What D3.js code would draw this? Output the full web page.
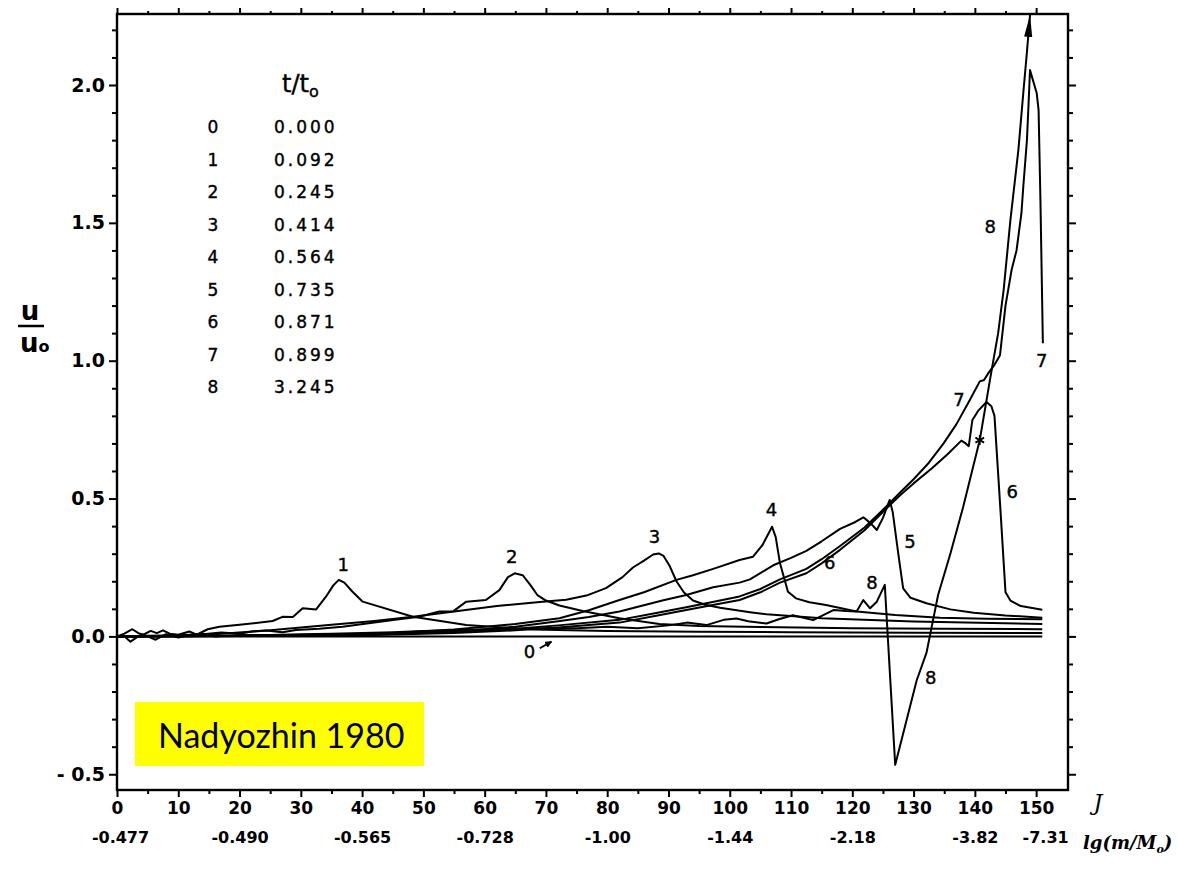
<!DOCTYPE html>
<html>
<head>
<meta charset="utf-8">
<script src="https://cdn.jsdelivr.net/npm/d3@7"></script>
<style>
  body { margin: 0; background: #fff; }
  svg { display: block; }
</style>
</head>
<body>
<svg id="chart" width="1178" height="870"></svg>
<script>
// ---------------- DATA ----------------
const legendIndex = ["0", "1", "2", "3", "4", "5", "6", "7", "8"];
const legendTime = ["0.000", "0.092", "0.245", "0.414", "0.564", "0.735", "0.871", "0.899", "3.245"];

const xMajorTicks = [0, 10, 20, 30, 40, 50, 60, 70, 80, 90, 100, 110, 120, 130, 140, 150];
const xMinorTicks = [5, 15, 25, 35, 45, 55, 65, 75, 85, 95, 105, 115, 125, 135, 145];
const lgTickJ = [0, 20, 40, 60, 80, 100, 120, 140, 150];
const lgTickLabels = ["-0.477", "-0.490", "-0.565", "-0.728", "-1.00", "-1.44", "-2.18", "-3.82", "-7.31"];
const yMajorTicks = [-0.5, 0.0, 0.5, 1.0, 1.5, 2.0];
const yTickLabels = ["- 0.5", "0.0", "0.5", "1.0", "1.5", "2.0"];

// curves: [J, u/u0]
const curve0 = [[0, 0], [151, 0]];
const curve1 = [[0,0],[1.2,0.01],[2.5,0.026],[3.5,0.012],[4.3,0.006],[5.5,0.02],[6.5,0.012],[7.5,0.022],[8.6,0.01],[10,0.006],[11.8,0.018],[13,0.006],[14.8,0.026],[16.7,0.035],[20,0.042],[25.4,0.056],[27,0.071],[28.7,0.07],[30.3,0.102],[32.5,0.098],[34.1,0.144],[35.3,0.185],[36.2,0.205],[37.1,0.195],[38.4,0.163],[40.1,0.126],[48.3,0.071],[57,0.041],[67.9,0.025],[80,0.02],[95,0.017],[110,0.015],[130,0.013],[151,0.012]];
const curve2 = [[0,0],[5,0.002],[10,0.004],[14,0.008],[17,0.014],[20,0.01],[22,0.018],[24.3,0.021],[27,0.015],[29.2,0.023],[33,0.028],[36.8,0.035],[42,0.05],[46,0.062],[49.3,0.071],[52.6,0.09],[54.8,0.09],[57,0.126],[60.2,0.132],[62.4,0.168],[63.8,0.215],[64.9,0.229],[66.2,0.222],[67.5,0.185],[68.6,0.15],[70,0.13],[72.2,0.112],[76,0.092],[82,0.066],[88.5,0.045],[95,0.038],[105,0.034],[120,0.03],[135,0.028],[151,0.026]];
const curve3 = [[0,0],[10,0.002],[16,0.008],[25,0.022],[35,0.042],[42,0.056],[48.3,0.071],[55,0.09],[62,0.11],[69,0.125],[73.3,0.133],[76.6,0.148],[79.8,0.175],[82.5,0.215],[84.2,0.25],[86,0.275],[87.5,0.297],[88.4,0.301],[89.2,0.292],[90.2,0.255],[91.3,0.2],[92.5,0.16],[94,0.13],[96,0.115],[98.4,0.104],[103.3,0.088],[106,0.08],[115,0.066],[130,0.054],[151,0.045]];
const curve4 = [[0,0],[20,0.002],[35,0.006],[45,0.012],[55,0.025],[65,0.045],[72.2,0.066],[77,0.095],[82,0.132],[86,0.16],[91.3,0.205],[94,0.222],[97.3,0.245],[101.6,0.277],[103.8,0.289],[105.3,0.33],[106.9,0.398],[107.5,0.36],[108.2,0.265],[109.5,0.162],[110.8,0.138],[113,0.124],[115.7,0.114],[120.7,0.09],[127,0.078],[134.3,0.068],[142,0.064],[151,0.062]];
const curve5 = [[0,0],[20,0.001],[40,0.006],[55,0.018],[65,0.035],[72,0.055],[77,0.07],[82,0.09],[89,0.13],[92.9,0.15],[97.3,0.178],[101.6,0.195],[103.3,0.207],[107.1,0.258],[110,0.285],[112.5,0.31],[115,0.345],[118,0.39],[120.5,0.415],[121.8,0.432],[123,0.41],[124,0.386],[125,0.43],[126.1,0.495],[126.6,0.45],[127.5,0.3],[128.3,0.174],[129.5,0.14],[132.1,0.12],[136,0.098],[139.8,0.086],[145,0.076],[151,0.068]];
const curve6 = [[0,0],[20,0.001],[40,0.004],[55,0.012],[65,0.022],[72,0.032],[82,0.05],[88,0.075],[92.9,0.096],[97,0.113],[101.6,0.132],[105,0.16],[108.2,0.195],[112.5,0.229],[115,0.265],[118,0.314],[122,0.385],[125.6,0.465],[127.8,0.512],[130,0.555],[133,0.61],[135.5,0.66],[137.8,0.71],[138.5,0.7],[139,0.69],[139.6,0.785],[140.6,0.82],[141.9,0.85],[142.7,0.835],[143.2,0.8],[144.2,0.45],[145,0.16],[145.8,0.13],[147.5,0.11],[151,0.097]];
const curve7 = [[0,0],[20,0.002],[40,0.006],[55,0.016],[65,0.028],[72,0.04],[82,0.06],[88,0.085],[92.9,0.106],[97,0.124],[101.6,0.145],[105,0.172],[108.2,0.207],[112.5,0.245],[115,0.28],[118,0.328],[122,0.395],[125.6,0.472],[127.8,0.522],[130,0.57],[132.5,0.63],[134.9,0.7],[137,0.77],[139,0.85],[140.8,0.925],[141.5,0.93],[142.2,0.955],[143.2,0.985],[144.1,1.02],[145,1.2],[146,1.33],[146.8,1.40],[147.6,1.535],[147.9,1.63],[148.5,1.80],[148.8,1.95],[149,2.054],[150.1,1.97],[150.4,1.909],[150.7,1.583],[151.1,1.063]];
const curve8 = [[0,0],[1,0.004],[2.2,-0.019],[4,0.008],[5,0.0],[6.3,-0.012],[8,0.008],[10,-0.004],[12,0.006],[14,0.01],[16,0.0],[20,0.005],[25,0.005],[30,0.008],[35,0.01],[40,0.012],[45,0.015],[50,0.02],[55,0.022],[60,0.025],[65,0.025],[70,0.03],[75,0.03],[80,0.035],[85,0.03],[90,0.04],[93,0.05],[96.2,0.041],[99,0.06],[101.1,0.065],[103,0.055],[106,0.047],[108,0.062],[110.3,0.077],[113.6,0.059],[117,0.096],[119,0.092],[120.7,0.09],[121.8,0.132],[122.9,0.102],[124,0.126],[125.3,0.187],[127,-0.466],[130.5,-0.16],[132.1,-0.06],[134,0.15],[136,0.3],[138.1,0.47],[140.8,0.712],[142.5,0.935],[143.8,1.10],[144.7,1.257],[145.8,1.51],[147.1,1.764],[147.9,1.97],[148.5,2.12],[149,2.254]];

const curves = [curve0, curve1, curve2, curve3, curve4, curve5, curve6, curve7, curve8];

// curve number annotations (text, J, u)
const curveLabelText = ["1", "2", "3", "4", "5", "6", "6", "7", "7", "8", "8", "8", "0"];
const curveLabelJ = [36.9, 64.4, 87.7, 106.8, 129.4, 116.3, 146.1, 137.4, 150.9, 123.2, 132.8, 142.5, 67.3];
const curveLabelU = [0.26, 0.288, 0.361, 0.459, 0.343, 0.267, 0.524, 0.861, 0.999, 0.194, -0.15, 1.485, -0.056];
const zeroArrow = [[69.0, -0.043], [70.9, -0.019]];
const starPoint = [140.8, 0.712];

// ---------------- CHART ----------------
const svg = d3.select("#chart");
const hand = '"DejaVu Sans", sans-serif';

const x = d3.scaleLinear().domain([0, 155.2]).range([117, 1068]);
const y = d3.scaleLinear().domain([-0.5, 2.0]).range([774.25, 85]);
const plotTop = 14, plotBottom = 790, plotLeft = 117, plotRight = 1068;

// arrow marker
const defs = svg.append("defs");
defs.append("marker").attr("id", "arrow").attr("viewBox", "0 0 10 10")
  .attr("refX", 10).attr("refY", 5).attr("markerWidth", 22).attr("markerHeight", 9)
  .attr("markerUnits", "userSpaceOnUse").attr("orient", "auto").attr("preserveAspectRatio", "none")
  .append("path").attr("d", "M0,0.5 L10,5 L0,9.5 Z").attr("fill", "#000");
defs.append("marker").attr("id", "arrowSmall").attr("viewBox", "0 0 10 10")
  .attr("refX", 9).attr("refY", 5).attr("markerWidth", 7).attr("markerHeight", 7)
  .attr("markerUnits", "userSpaceOnUse").attr("orient", "auto")
  .append("path").attr("d", "M0,0 L10,5 L0,10 Z").attr("fill", "#000");

// yellow box
svg.append("rect").attr("x", 135).attr("y", 702).attr("width", 289).attr("height", 64).attr("fill", "#ffff00");
svg.append("text").attr("x", 158).attr("y", 748).text("Nadyozhin 1980")
  .attr("font-family", "Lato, 'Open Sans', sans-serif").attr("font-size", 34).attr("fill", "#000");

// axes ticks
function styleAxis(g) {
  g.select(".domain").remove();
  g.selectAll(".tick line").attr("stroke", "#000").attr("stroke-width", 2);
}
const yMinor = d3.range(-5, 23).map(d => d / 10).filter(d => yMajorTicks.indexOf(d) < 0);

svg.append("g").attr("transform", `translate(0,${plotBottom})`)
  .call(d3.axisBottom(x).tickValues(xMajorTicks).tickSize(7).tickPadding(5).tickFormat(d => d))
  .call(styleAxis)
  .call(g => g.selectAll("text").attr("font-family", hand).attr("font-size", 17).attr("font-weight", "bold").attr("fill", "#000"));
svg.append("g").attr("transform", `translate(0,${plotBottom})`)
  .call(d3.axisBottom(x).tickValues(xMinorTicks).tickSize(4).tickFormat(""))
  .call(styleAxis);
svg.append("g").attr("transform", `translate(0,${plotBottom + 40})`)
  .call(d3.axisBottom(x).tickValues(lgTickJ).tickSize(0).tickPadding(2).tickFormat((d, i) => lgTickLabels[i]))
  .call(g => g.select(".domain").remove())
  .call(g => g.selectAll("text").attr("font-family", hand).attr("font-size", 16).attr("font-weight", "bold").attr("fill", "#000")
    .attr("transform", (d, i) => i === lgTickJ.length - 1 ? "translate(9,0)" : (i === 0 ? "translate(3,0)" : null)));

svg.append("g").attr("transform", `translate(0,${plotTop})`)
  .call(d3.axisTop(x).tickValues(xMajorTicks).tickSize(6).tickFormat(""))
  .call(styleAxis);
svg.append("g").attr("transform", `translate(0,${plotTop})`)
  .call(d3.axisTop(x).tickValues(xMinorTicks).tickSize(3).tickFormat(""))
  .call(styleAxis);

svg.append("g").attr("transform", `translate(${plotLeft},0)`)
  .call(d3.axisLeft(y).tickValues(yMajorTicks).tickSize(8).tickPadding(4).tickFormat((d, i) => yTickLabels[i]))
  .call(styleAxis)
  .call(g => g.selectAll("text").attr("font-family", hand).attr("font-size", 19).attr("font-weight", "bold").attr("fill", "#000"));
svg.append("g").attr("transform", `translate(${plotLeft},0)`)
  .call(d3.axisLeft(y).tickValues(yMinor).tickSize(5).tickFormat(""))
  .call(styleAxis);
svg.append("g").attr("transform", `translate(${plotRight},0)`)
  .call(d3.axisRight(y).tickValues(yMajorTicks).tickSize(8).tickFormat(""))
  .call(styleAxis);
svg.append("g").attr("transform", `translate(${plotRight},0)`)
  .call(d3.axisRight(y).tickValues(yMinor).tickSize(5).tickFormat(""))
  .call(styleAxis);

// frame
svg.append("rect").attr("x", plotLeft).attr("y", plotTop).attr("width", plotRight - plotLeft).attr("height", plotBottom - plotTop)
  .attr("fill", "none").attr("stroke", "#000").attr("stroke-width", 2.4);

// curves
const line = d3.line().x(d => x(d[0])).y(d => y(d[1]));
svg.append("g").selectAll("path").data(curves).join("path")
  .attr("d", line).attr("fill", "none").attr("stroke", "#000")
  .attr("stroke-width", 2).attr("stroke-linejoin", "round")
  .attr("marker-end", (d, i) => i === 8 ? "url(#arrow)" : null);

// star
svg.append("path").attr("d", d3.symbol().type(d3.symbolAsterisk).size(70)())
  .attr("transform", `translate(${x(starPoint[0])},${y(starPoint[1])})`)
  .attr("fill", "none").attr("stroke", "#000").attr("stroke-width", 1.8);

// curve labels
svg.append("g").selectAll("text").data(curveLabelText).join("text")
  .attr("x", (d, i) => x(curveLabelJ[i])).attr("y", (d, i) => y(curveLabelU[i]))
  .attr("text-anchor", "middle").attr("dominant-baseline", "central")
  .attr("font-family", hand).attr("font-size", 18).attr("fill", "#000")
  .attr("stroke", "#000").attr("stroke-width", 0.4).text(d => d);
svg.append("path").attr("d", line(zeroArrow)).attr("stroke", "#000").attr("stroke-width", 2)
  .attr("marker-end", "url(#arrowSmall)");

// legend
svg.append("text").attr("x", 282).attr("y", 92).attr("font-family", hand).attr("font-size", 24).attr("fill", "#000")
  .attr("stroke", "#000").attr("stroke-width", 0.4)
  .call(t => { t.append("tspan").text("t/t"); t.append("tspan").attr("font-size", 16).attr("dy", 5).text("o"); });
const legend = svg.append("g");
legend.selectAll("text.idx").data(legendIndex).join("text").attr("class", "idx")
  .attr("x", 213).attr("y", (d, i) => 127 + i * 32.5).attr("dominant-baseline", "central")
  .attr("text-anchor", "middle").attr("font-family", hand).attr("font-size", 17).attr("fill", "#000")
  .attr("stroke", "#000").attr("stroke-width", 0.4).text(d => d);
legend.selectAll("text.val").data(legendTime).join("text").attr("class", "val")
  .attr("x", 274).attr("y", (d, i) => 127 + i * 32.5).attr("dominant-baseline", "central")
  .attr("font-family", hand).attr("font-size", 17).attr("letter-spacing", 3).attr("fill", "#000")
  .attr("stroke", "#000").attr("stroke-width", 0.4).text(d => d);

// y axis label u / u0
svg.append("text").attr("x", 30).attr("y", 320).attr("text-anchor", "middle")
  .attr("font-family", hand).attr("font-size", 26).attr("font-weight", "bold").attr("fill", "#000").text("u");
svg.append("line").attr("x1", 18).attr("x2", 44).attr("y1", 326).attr("y2", 326).attr("stroke", "#000").attr("stroke-width", 2.5);
svg.append("text").attr("x", 20).attr("y", 352)
  .attr("font-family", hand).attr("font-size", 26).attr("font-weight", "bold").attr("fill", "#000")
  .call(t => { t.append("tspan").text("u"); t.append("tspan").attr("font-size", 16).attr("dy", 0).text("o"); });

// x axis titles
svg.append("text").attr("x", 1098).attr("y", 810).attr("text-anchor", "middle")
  .attr("font-family", "'DejaVu Serif', serif").attr("font-style", "italic").attr("font-size", 22).attr("fill", "#000").text("J");
svg.append("text").attr("x", 1083).attr("y", 849)
  .attr("font-family", "'DejaVu Serif', serif").attr("font-style", "italic").attr("font-weight", "bold").attr("font-size", 18).attr("fill", "#000")
  .call(t => {
    t.append("tspan").text("lg(m/M");
    t.append("tspan").attr("font-size", 11).attr("dy", 4).text("o");
    t.append("tspan").attr("dy", -4).text(")");
  });
</script>
</body>
</html>
